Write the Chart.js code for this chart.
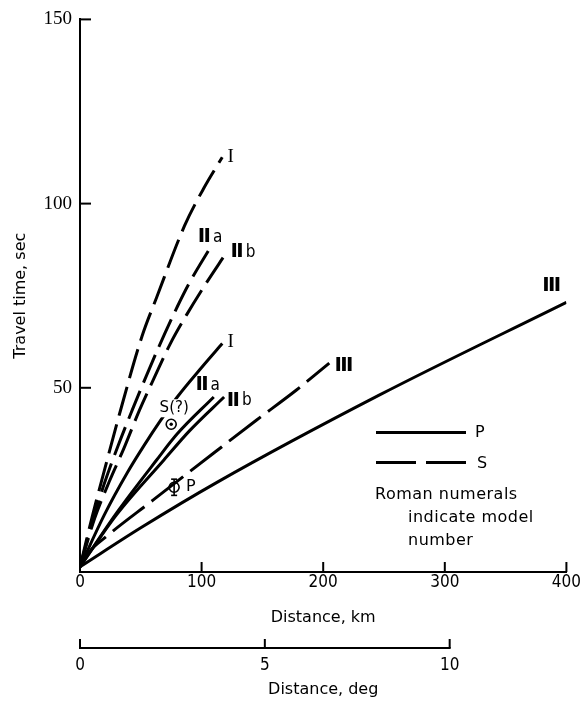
<!DOCTYPE html>
<html>
<head>
<meta charset="utf-8">
<script src="https://cdn.jsdelivr.net/npm/chart.js@4.4.1/dist/chart.umd.min.js"></script>
<style>
  html, body { margin: 0; padding: 0; background: #fff; }
  canvas { display: block; }
</style>
</head>
<body>
<canvas id="grafico" width="581" height="703"></canvas>
<script>
// Travel time curves: distance (km) and time (sec)
var sI_km   = [0, 10, 20, 33, 51, 63, 86, 102, 117];
var sI_sec  = [1.4, 15, 27.5, 43.5, 64, 74.5, 94, 104.3, 112.6];
var sIIa_km  = [0, 10, 20, 31, 43, 53, 64, 80, 90, 107];
var sIIa_sec = [1.4, 13.5, 24, 34, 44, 52, 60.5, 72, 78.5, 88];
var sIIb_km  = [0, 12, 24, 36, 49, 61, 74, 88, 102, 120];
var sIIb_sec = [1.4, 14.5, 24.5, 33.5, 44, 52.7, 61.8, 70, 77.5, 86.5];
var sIII_km  = [0, 8, 20, 60, 110, 145, 178, 205];
var sIII_sec = [1.4, 5.6, 9.2, 19.5, 32.3, 41.2, 49.4, 56.7];

var pI_km   = [0, 20, 39, 53, 66, 80, 100, 117];
var pI_sec  = [1.4, 15.5, 27, 34.5, 41, 47.5, 55.5, 62];
var pIIa_km  = [0, 30, 63, 80, 110];
var pIIa_sec = [1.4, 16, 30.4, 37.5, 47.5];
var pIIb_km  = [0, 30, 69, 90, 118.5];
var pIIb_sec = [1.4, 15.5, 30.4, 38.3, 47.5];
var pIII_km  = [0, 50, 113, 246, 400];
var pIII_sec = [1.4, 12, 24.4, 48, 73.2];

// observed arrivals
var sObs = { km: 75, sec: 40.1 };
var pObs = { km: 77.4, sec: 23, lo: 20.8, hi: 25.2 };

// model number labels: numeral, suffix, km, sec
var modelNum = ['I', 'Ⅱ', 'Ⅱ', 'I', 'Ⅱ', 'Ⅱ', 'Ⅲ', 'Ⅲ'];
var modelSuf = ['', 'a', 'b', '', 'a', 'b', '', ''];
var modelKm  = [124, 107, 134, 124, 105, 131, 217, 388];
var modelSec = [112.6, 90.9, 86.8, 62.4, 50.7, 46.6, 56.1, 77.8];

// axes
var kmTicks = [0, 100, 200, 300, 400];
var secTicks = [50, 100, 150];
var degTicks = [0, 5, 10];
var kmPerDeg = 30.4;

var SANS = '"DejaVu Sans", sans-serif';
var NARROW = '"Liberation Sans Narrow", "DejaVu Sans Condensed", sans-serif';
var SERIF = '"Liberation Serif", serif';

function pares(xs, ys) {
    return xs.map((x, i) => ({ x: x, y: ys[i] }));
}

function curva(xs, ys, dash) {
    return {
        data: pares(xs, ys),
        borderColor: '#000',
        borderWidth: 3,
        borderDash: dash || [],
        pointRadius: 0,
        fill: false,
        cubicInterpolationMode: 'monotone'
    };
}

var dashS = [30, 9];

// extra drawing: inward ticks, degree axis, labels, legend
var extras = {
    id: 'extras',
    afterDatasetsDraw(chart) {
        var ctx = chart.ctx, a = chart.chartArea;
        var x = chart.scales.x, y = chart.scales.y, x2 = chart.scales.x2;
        function linha(x0, y0, x1, y1) {
            ctx.beginPath(); ctx.moveTo(x0, y0); ctx.lineTo(x1, y1); ctx.stroke();
        }
        ctx.save();
        ctx.strokeStyle = '#000';
        ctx.fillStyle = '#000';
        ctx.lineWidth = 2;

        // ticks pointing into the plot
        kmTicks.forEach(v => {
            if (v === 0) return;
            var px = x.getPixelForValue(v);
            linha(px, a.bottom, px, a.bottom - 10);
        });
        secTicks.forEach(v => {
            var py = y.getPixelForValue(v);
            linha(a.left, py, a.left + 11, py);
        });

        // degree axis
        var yy = x2.top + 14;
        linha(x2.getPixelForValue(degTicks[0]) - 1, yy, x2.getPixelForValue(degTicks[degTicks.length - 1]) + 1, yy);
        degTicks.forEach(v => {
            var px = x2.getPixelForValue(v);
            linha(px, yy, px, yy - 9);
        });

        // P error bar
        var px = x.getPixelForValue(pObs.km);
        var yLo = y.getPixelForValue(pObs.lo), yHi = y.getPixelForValue(pObs.hi);
        ctx.lineWidth = 1.6;
        linha(px, yLo, px, yHi);
        linha(px - 3, yLo, px + 3, yLo);
        linha(px - 3, yHi, px + 3, yHi);

        // model labels
        ctx.textBaseline = 'middle';
        ctx.textAlign = 'left';
        modelNum.forEach((n, i) => {
            var fNum = n === 'I' ? '19px ' + SERIF : 'bold 20px ' + SANS;
            var fSuf = '17px ' + NARROW;
            ctx.font = fNum;
            var w1 = ctx.measureText(n).width;
            ctx.font = fSuf;
            var w2 = modelSuf[i] ? ctx.measureText(modelSuf[i]).width + 2 : 0;
            var cx = x.getPixelForValue(modelKm[i]) - (w1 + w2) / 2;
            var cy = y.getPixelForValue(modelSec[i]);
            ctx.font = fNum;
            ctx.fillText(n, cx, cy);
            if (modelSuf[i]) {
                ctx.font = fSuf;
                ctx.fillText(modelSuf[i], cx + w1 + 2, cy);
            }
        });

        // S(?) label with white box over the curve
        ctx.textAlign = 'center';
        var sx = x.getPixelForValue(sObs.km) + 3, sy = y.getPixelForValue(sObs.sec) - 16;
        ctx.font = '15px ' + SANS;
        var w = ctx.measureText('S(?)').width;
        ctx.fillStyle = '#fff';
        ctx.fillRect(sx - w / 2 - 1, sy - 9, w + 2, 18);
        ctx.fillStyle = '#000';
        ctx.fillText('S(?)', sx, sy);
        ctx.textAlign = 'left';
        ctx.font = '16px ' + SANS;
        ctx.fillText('P', px + 12, y.getPixelForValue(pObs.sec));

        // legend
        var lx = a.left + 296, ly = a.top + 413;
        ctx.lineWidth = 3;
        linha(lx, ly, lx + 90, ly);
        ctx.setLineDash([40, 10]);
        linha(lx, ly + 30, lx + 91, ly + 30);
        ctx.setLineDash([]);
        ctx.fillText('P', lx + 99, ly);
        ctx.fillText('S', lx + 101, ly + 31);
        ctx.font = '16px ' + SANS;
        ctx.letterSpacing = '0.5px';
        ctx.fillText('Roman numerals', lx - 1, ly + 62);
        ctx.fillText('indicate model', lx + 32, ly + 85);
        ctx.fillText('number', lx + 32, ly + 108);
        ctx.restore();
    }
};

var ctx = document.getElementById('grafico').getContext('2d');
var grafico = new Chart(ctx, {
    type: 'line',
    data: {
        datasets: [
            curva(sI_km, sI_sec, dashS),
            curva(sIIa_km, sIIa_sec, dashS),
            curva(sIIb_km, sIIb_sec, dashS),
            curva(sIII_km, sIII_sec, [40, 9]),
            curva(pI_km, pI_sec),
            curva(pIIa_km, pIIa_sec),
            curva(pIIb_km, pIIb_sec),
            curva(pIII_km, pIII_sec),
            {
                // dot in the middle of the S(?) circle
                data: [{ x: sObs.km, y: sObs.sec }],
                showLine: false,
                pointRadius: 1.7,
                pointBorderWidth: 0,
                pointBackgroundColor: '#000'
            },
            {
                data: [{ x: sObs.km, y: sObs.sec }, { x: pObs.km, y: pObs.sec }],
                showLine: false,
                pointRadius: 5,
                pointBorderWidth: 1.6,
                pointBorderColor: '#000',
                pointBackgroundColor: '#fff'
            }
        ]
    },
    options: {
        responsive: false,
        animation: false,
        layout: { padding: { left: 0, right: 14, top: 19, bottom: 0 } },
        plugins: { legend: { display: false }, tooltip: { enabled: false } },
        scales: {
            x: {
                type: 'linear', position: 'bottom', weight: 0,
                min: 0, max: 400,
                grid: { display: false, drawTicks: false },
                border: { display: true, color: '#000', width: 2 },
                afterBuildTicks: s => { s.ticks = kmTicks.map(v => ({ value: v })); },
                ticks: { padding: 0, color: '#000', font: { family: NARROW, size: 17 } },
                title: { display: true, text: 'Distance, km', color: '#000',
                         font: { family: SANS, size: 16 }, padding: { top: 0, bottom: 7 } },
                afterFit: s => { s.height = 62; }
            },
            x2: {
                type: 'linear', position: 'bottom', weight: 1,
                min: 0, max: 400 / kmPerDeg,
                grid: { display: false, drawTicks: false },
                border: { display: false },
                afterBuildTicks: s => { s.ticks = degTicks.map(v => ({ value: v })); },
                ticks: { padding: 21, color: '#000', font: { family: NARROW, size: 17 } },
                title: { display: true, text: 'Distance, deg', color: '#000',
                         font: { family: SANS, size: 16 }, padding: { top: 0, bottom: 4 } },
                afterFit: s => { s.height = 69; }
            },
            y: {
                type: 'linear', position: 'left',
                min: 0, max: 150,
                grid: { display: false, drawTicks: false },
                border: { display: true, color: '#000', width: 2 },
                afterBuildTicks: s => { s.ticks = secTicks.map(v => ({ value: v })); },
                ticks: { padding: 8, color: '#000', font: { family: SERIF, size: 19 } },
                title: { display: true, text: 'Travel time, sec', color: '#000',
                         font: { family: SANS, size: 16 }, padding: { top: 11, bottom: 0 } },
                afterFit: s => { s.width = 80; }
            }
        }
    },
    plugins: [extras]
});
</script>
</body>
</html>
